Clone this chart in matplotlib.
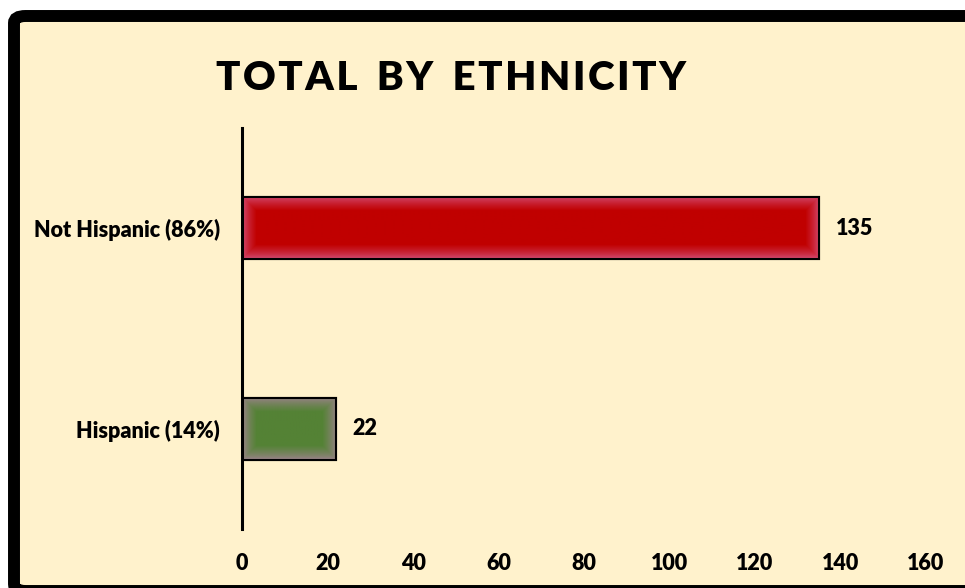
import numpy as np
import matplotlib.pyplot as plt
from matplotlib.patches import FancyBboxPatch
from matplotlib.colors import to_rgb

categories = ['Hispanic (14%)', 'Not Hispanic (86%)']
values = [22, 135]
bar_colors = ['#548235', '#C00000']
glow_colors = ['#A08290', '#D4507A']
xticks = [0, 20, 40, 60, 80, 100, 120, 140, 160]
title = 'TOTAL BY ETHNICITY'

plt.rcParams['font.family'] = ['Lato', 'DejaVu Sans']
plt.rcParams['font.weight'] = 'bold'

W, H = 965, 588
fig = plt.figure(figsize=(W / 100, H / 100), dpi=100, facecolor='white')

# rounded black frame with cream fill
frame = FancyBboxPatch((14 / W, 1 - 591 / H), (980 - 14) / W, (591 - 16) / H,
                       boxstyle='round,pad=0,rounding_size=0.012',
                       transform=fig.transFigure, facecolor='#FFF2CC',
                       edgecolor='black', linewidth=8.6, zorder=-10)
fig.patches.append(frame)

ax = fig.add_axes([242 / W, 1 - 529 / H, (926 - 242) / W, (529 - 128) / H])
ax.set_facecolor('none')

ypos = np.arange(len(categories))
bars = ax.barh(ypos, values, height=0.31, color=bar_colors,
               edgecolor='black', linewidth=1.5, zorder=3)

ax.set_xlim(0, 160)
ax.set_ylim(-0.5, 1.5)
ax.set_xticks(xticks)
ax.set_yticks(ypos)
ax.set_yticklabels(categories)
ax.tick_params(axis='both', length=0, labelsize=15.5)
ax.tick_params(axis='x', pad=17)
ax.tick_params(axis='y', pad=16)
for lab in ax.get_xticklabels() + ax.get_yticklabels():
    lab.set_fontweight('heavy')
for s in ['top', 'right', 'bottom']:
    ax.spines[s].set_visible(False)
ax.spines['left'].set_linewidth(2.2)
ax.spines['left'].set_zorder(5)

# soft glow along bar edges
fig.canvas.draw()
for rect, base, edge in zip(bars, bar_colors, glow_colors):
    bb = rect.get_window_extent()
    wpx, hpx = max(int(bb.width), 2), max(int(bb.height), 2)
    xx = np.arange(wpx)[None, :]
    yy = np.arange(hpx)[:, None]
    d = np.minimum(np.minimum(xx, wpx - 1 - xx), np.minimum(yy, hpx - 1 - yy))
    w = np.clip(d / 14.0, 0, 1)[..., None] ** 0.7
    img = np.array(to_rgb(edge)) * (1 - w) + np.array(to_rgb(base)) * w
    x0, y0 = rect.get_x(), rect.get_y()
    ax.imshow(img, extent=[x0, x0 + rect.get_width(), y0, y0 + rect.get_height()],
              aspect='auto', zorder=3.5, clip_path=rect, interpolation='bilinear')
    ax.add_patch(plt.Rectangle((x0, y0), rect.get_width(), rect.get_height(),
                               fill=False, edgecolor='black', linewidth=1.5, zorder=4))

ax.bar_label(bars, labels=[str(v) for v in values], padding=12,
             fontsize=15.5, fontweight='heavy', zorder=6)
ax.set_xlim(0, 160)
ax.set_ylim(-0.5, 1.5)

# letter-spaced title
spaced = '\u200a'.join(title).replace('\u200a \u200a', '\u2009 \u2009')
fig.text(451 / W, 1 - 79 / H, spaced, ha='center', va='center',
         fontsize=29, fontweight='heavy')

fig.savefig('out.png', dpi=100, facecolor='white')
